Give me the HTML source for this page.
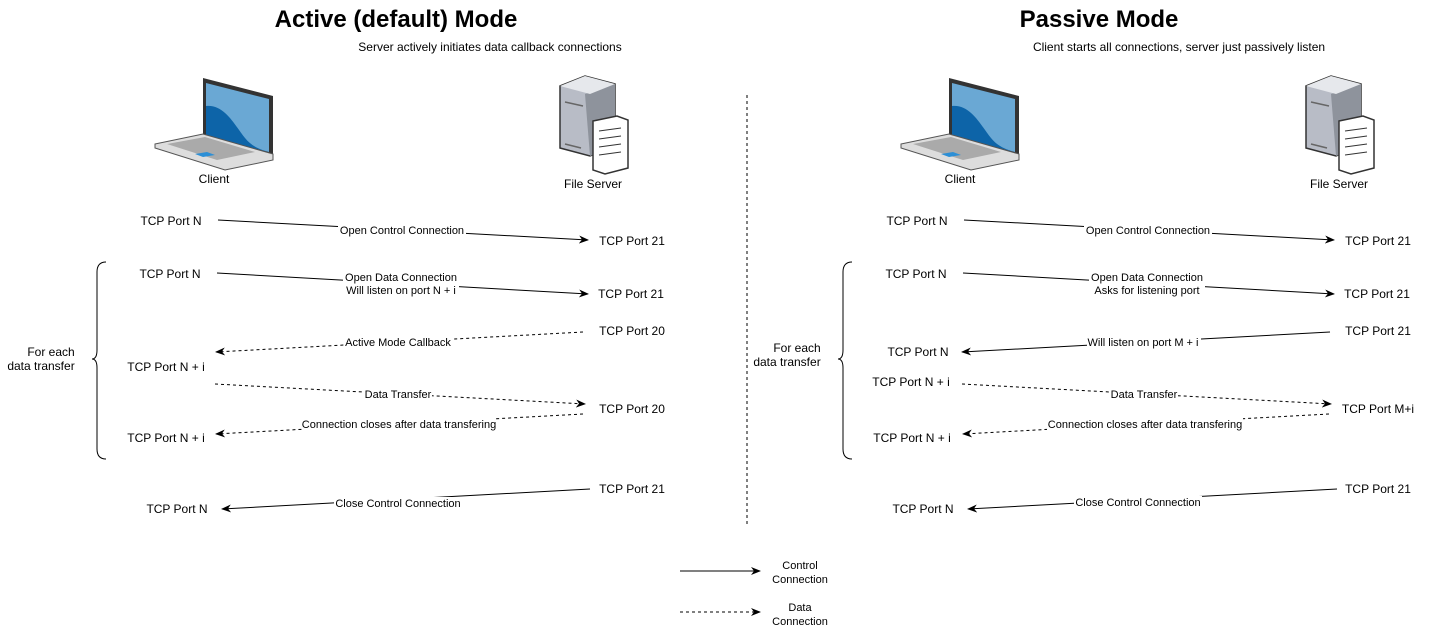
<!DOCTYPE html>
<html><head><meta charset="utf-8"><style>
html,body{margin:0;padding:0;background:#fff;}
svg{display:block;}
text{font-family:"Liberation Sans",Arial,sans-serif;fill:#000;}
.t{font-size:12px;text-anchor:middle;}
.l{font-size:11px;text-anchor:middle;}
</style></head><body>
<svg width="1435" height="640" viewBox="0 0 1435 640" xmlns="http://www.w3.org/2000/svg">
<defs>
<marker id="a" markerWidth="10" markerHeight="8" refX="9" refY="4" orient="auto" markerUnits="userSpaceOnUse">
<path d="M0,0 L10,4 L0,8 L3,4 z" fill="#000"/></marker>
<g id="laptop">
<path d="M48,2 L118,20 L118,80 L48,62 z" fill="#333"/>
<path d="M51,7 L114,23 L114,76 L51,60 z" fill="#6aa8d4"/>
<path d="M51,30 C70,28 80,50 90,62 C98,72 108,74 114,76 L51,60 z" fill="#0d64a8"/>
<path d="M0,68 L48,58 L118,78 L118,84 L70,94 L0,72 z" fill="#ddd" stroke="#555" stroke-width="1"/>
<path d="M12,68 L50,61 L100,76 L62,84 z" fill="#aaa"/>
<path d="M40,78 L52,76 L60,79 L48,81 z" fill="#2c8fd6"/>
</g>
<g id="server">
<path d="M5,10 L30,0 L60,8 L60,70 L35,80 L5,72 z" fill="#b8bcc6" stroke="#333" stroke-width="1.5"/>
<path d="M30,18 L60,8 L60,70 L35,80 z" fill="#8e939c"/>
<path d="M5,10 L30,0 L60,8 L35,18 z" fill="#e6e8ec"/>
<line x1="10" y1="26" x2="28" y2="30" stroke="#666" stroke-width="1.5"/>
<line x1="10" y1="68" x2="26" y2="72" stroke="#666" stroke-width="1.5"/>
<path d="M38,45 L62,40 L73,44 L73,92 L50,98 L38,94 z" fill="#fff" stroke="#333" stroke-width="1.5"/>
<g stroke="#333" stroke-width="1"><line x1="44" y1="55" x2="66" y2="52"/><line x1="44" y1="63" x2="66" y2="60"/><line x1="44" y1="71" x2="66" y2="68"/><line x1="44" y1="79" x2="66" y2="76"/></g>
</g>
</defs>

<text x="396" y="27" style="font-size:24px;font-weight:bold;text-anchor:middle">Active (default) Mode</text>
<text x="490" y="51" class="l" style="font-size:12px">Server actively initiates data callback connections</text>
<text x="1099" y="27" style="font-size:24px;font-weight:bold;text-anchor:middle">Passive Mode</text>
<text x="1179" y="51" class="l" style="font-size:12px">Client starts all connections, server just passively listen</text>

<line x1="747" y1="95" x2="747" y2="525" stroke="#000" stroke-dasharray="3,3"/>

<use href="#laptop" x="155" y="76"/>
<use href="#server" x="555" y="76"/>
<use href="#laptop" x="901" y="76"/>
<use href="#server" x="1301" y="76"/>
<text x="214" y="183" class="t">Client</text>
<text x="593" y="188" class="t">File Server</text>
<text x="960" y="183" class="t">Client</text>
<text x="1339" y="188" class="t">File Server</text>

<g stroke="#000" fill="none">
<line x1="218" y1="220" x2="588" y2="240" marker-end="url(#a)"/>
<line x1="217" y1="273" x2="588" y2="294" marker-end="url(#a)"/>
<line x1="583" y1="332" x2="216" y2="352" stroke-dasharray="3,3" marker-end="url(#a)"/>
<line x1="215" y1="384" x2="585" y2="404" stroke-dasharray="3,3" marker-end="url(#a)"/>
<line x1="583" y1="414" x2="216" y2="434" stroke-dasharray="3,3" marker-end="url(#a)"/>
<line x1="590" y1="489" x2="222" y2="509" marker-end="url(#a)"/>
<path d="M106,262 Q97,262 97,272 L97,350 Q97,359 92,359 Q97,359 97,368 L97,449 Q97,459 106,459"/>
</g>
<g fill="#fff">
<rect x="338" y="224" width="128" height="13"/>
<rect x="343" y="271" width="116" height="26"/>
<rect x="344" y="336" width="108" height="13"/>
<rect x="364" y="388" width="68" height="13"/>
<rect x="302" y="418" width="194" height="13"/>
<rect x="334" y="497" width="128" height="13"/>
</g>
<text x="171" y="225" class="t">TCP Port N</text>
<text x="402" y="234" class="l">Open Control Connection</text>
<text x="632" y="245" class="t">TCP Port 21</text>
<text x="170" y="278" class="t">TCP Port N</text>
<text x="401" y="281" class="l">Open Data Connection</text>
<text x="401" y="294" class="l">Will listen on port N + i</text>
<text x="631" y="298" class="t">TCP Port 21</text>
<text x="632" y="335" class="t">TCP Port 20</text>
<text x="398" y="346" class="l">Active Mode Callback</text>
<text x="166" y="371" class="t">TCP Port N + i</text>
<text x="398" y="398" class="l">Data Transfer</text>
<text x="632" y="413" class="t">TCP Port 20</text>
<text x="399" y="428" class="l">Connection closes after data transfering</text>
<text x="166" y="442" class="t">TCP Port N + i</text>
<text x="632" y="493" class="t">TCP Port 21</text>
<text x="398" y="507" class="l">Close Control Connection</text>
<text x="177" y="513" class="t">TCP Port N</text>
<text x="51" y="356" class="t">For each</text>
<text x="41" y="370" class="t">data transfer</text>

<g stroke="#000" fill="none">
<line x1="964" y1="220" x2="1334" y2="240" marker-end="url(#a)"/>
<line x1="963" y1="273" x2="1334" y2="294" marker-end="url(#a)"/>
<line x1="1330" y1="332" x2="962" y2="352" marker-end="url(#a)"/>
<line x1="962" y1="384" x2="1331" y2="404" stroke-dasharray="3,3" marker-end="url(#a)"/>
<line x1="1329" y1="414" x2="963" y2="434" stroke-dasharray="3,3" marker-end="url(#a)"/>
<line x1="1337" y1="489" x2="968" y2="509" marker-end="url(#a)"/>
<path d="M852,262 Q843,262 843,272 L843,350 Q843,359 838,359 Q843,359 843,368 L843,449 Q843,459 852,459"/>
</g>
<g fill="#fff">
<rect x="1084" y="224" width="128" height="13"/>
<rect x="1089" y="271" width="116" height="26"/>
<rect x="1087" y="336" width="114" height="13"/>
<rect x="1110" y="388" width="68" height="13"/>
<rect x="1047" y="418" width="196" height="13"/>
<rect x="1074" y="496" width="128" height="13"/>
</g>
<text x="917" y="225" class="t">TCP Port N</text>
<text x="1148" y="234" class="l">Open Control Connection</text>
<text x="1378" y="245" class="t">TCP Port 21</text>
<text x="916" y="278" class="t">TCP Port N</text>
<text x="1147" y="281" class="l">Open Data Connection</text>
<text x="1147" y="294" class="l">Asks for listening port</text>
<text x="1377" y="298" class="t">TCP Port 21</text>
<text x="1378" y="335" class="t">TCP Port 21</text>
<text x="1143" y="346" class="l">Will listen on port M + i</text>
<text x="918" y="356" class="t">TCP Port N</text>
<text x="911" y="386" class="t">TCP Port N + i</text>
<text x="1144" y="398" class="l">Data Transfer</text>
<text x="1378" y="413" class="t">TCP Port M+i</text>
<text x="1145" y="428" class="l">Connection closes after data transfering</text>
<text x="912" y="442" class="t">TCP Port N + i</text>
<text x="1378" y="493" class="t">TCP Port 21</text>
<text x="1138" y="506" class="l">Close Control Connection</text>
<text x="923" y="513" class="t">TCP Port N</text>
<text x="797" y="352" class="t">For each</text>
<text x="787" y="366" class="t">data transfer</text>

<line x1="680" y1="571" x2="760" y2="571" stroke="#000" marker-end="url(#a)"/>
<line x1="680" y1="612" x2="760" y2="612" stroke="#000" stroke-dasharray="3,3" marker-end="url(#a)"/>
<text x="800" y="569" class="l">Control</text>
<text x="800" y="583" class="l">Connection</text>
<text x="800" y="611" class="l">Data</text>
<text x="800" y="625" class="l">Connection</text>
</svg>
</body></html>
